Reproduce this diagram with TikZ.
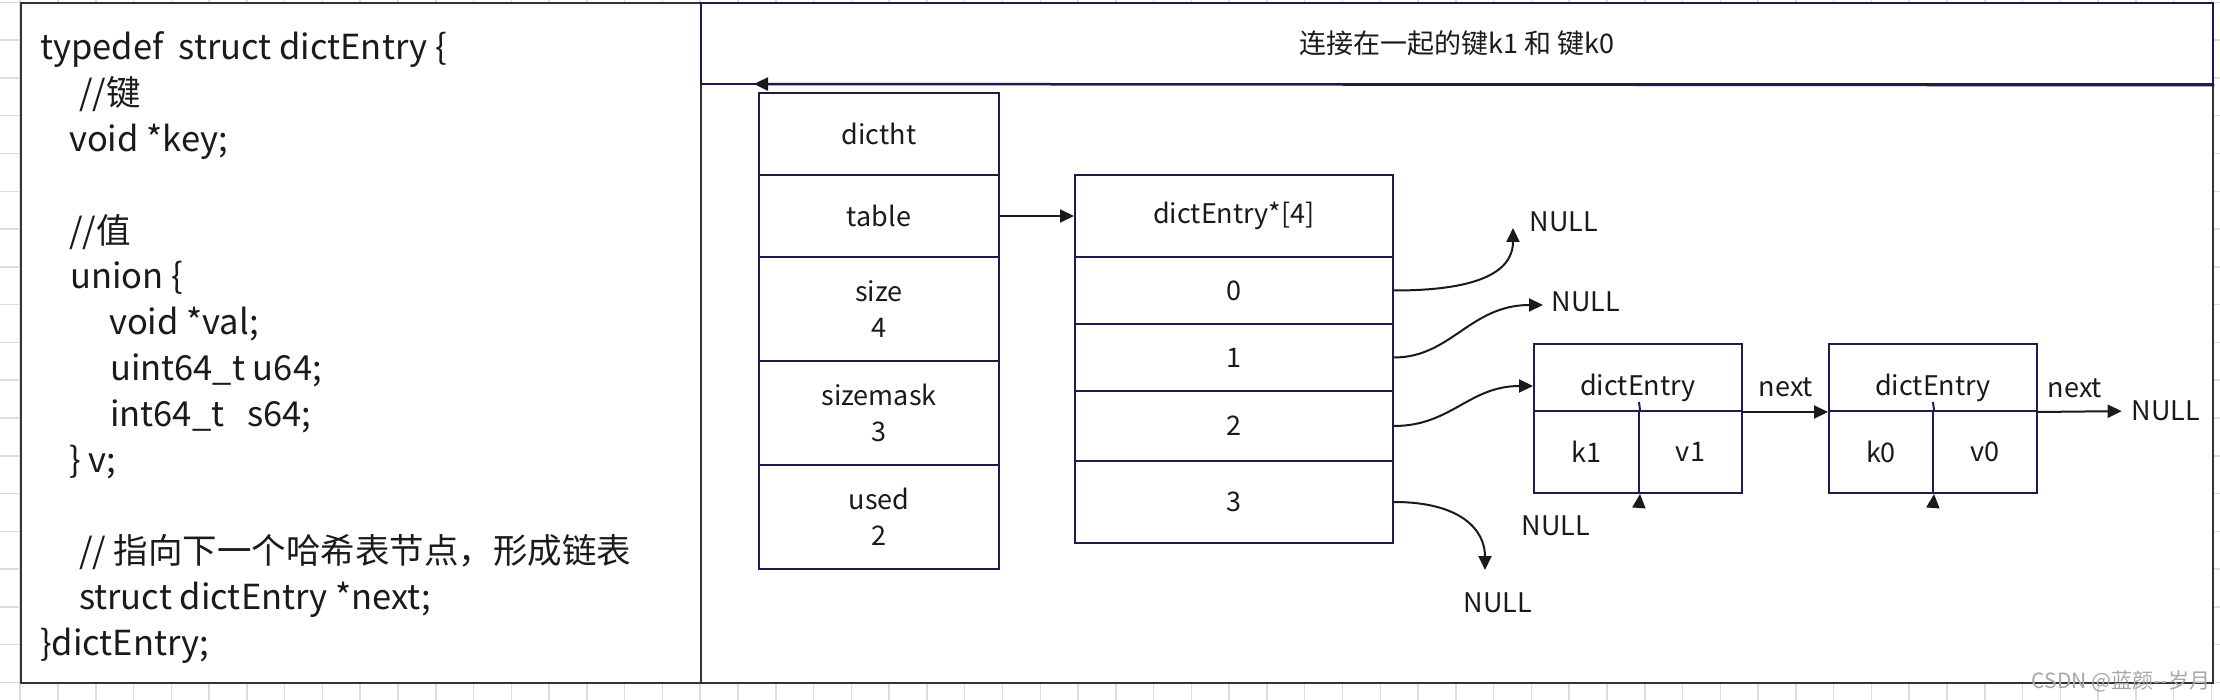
\documentclass[tikz,border=0pt]{standalone}
\usepackage{fontspec}
\setmainfont{Noto Sans CJK SC}
\usetikzlibrary{arrows.meta}
\definecolor{navy}{HTML}{1C1E48}
\definecolor{panelgray}{HTML}{333333}
\definecolor{ink}{HTML}{1A1A1A}
\definecolor{gridc}{HTML}{DCDCDC}
\definecolor{wmark}{HTML}{A8A8A8}
\begin{document}
\begin{tikzpicture}[x=1pt,y=-1pt,
  cell/.style={draw=navy, line width=2pt, inner sep=0pt, align=center,
    font=\fontsize{27}{36}\selectfont, text=ink},
  codeline/.style={anchor=base west, inner sep=0pt,
    font=\fontsize{34.5}{40}\selectfont, text=ink},
  arrow/.style={draw=ink, line width=2pt, -{Triangle[length=14pt,width=13pt]}},
  lbl/.style={inner sep=0pt, font=\fontsize{27}{32}\selectfont, text=ink},
  panel/.style={fill=white, draw=panelgray, line width=2.5pt},
]
\useasboundingbox (0,0) rectangle (2220,700);
% background grid
\foreach \k in {0,...,18} \draw[gridc, line width=1.5pt] (0,{2.4+37.78*\k}) -- (2220,{2.4+37.78*\k});
\foreach \k in {0,...,58} \draw[gridc, line width=1.5pt] ({20.2+37.78*\k},0) -- ({20.2+37.78*\k},700);
% panels
\filldraw[panel] (21,3) rectangle (701,683);
\filldraw[panel] (701,84) rectangle (2213,683);
\node[draw=navy, line width=2.5pt, fill=white, minimum width=1512pt, minimum height=81pt,
  inner sep=0pt, font=\fontsize{27}{32}\selectfont, text=ink] (header) at (1457,43.5) {连接在一起的键k1 和 键k0};
% code
\node[codeline] (c0) at (40,60) {typedef\ \ struct dictEntry \{};
\node[codeline] (c1) at (79,105.8) {//键};
\node[codeline] (c2) at (69,151.6) {void *key;};
\node[codeline] (c4) at (69,243.2) {//值};
\node[codeline] (c5) at (70,289) {union \{};
\node[codeline] (c6) at (109,334.8) {void *val;};
\node[codeline] (c7) at (110,380.6) {uint64\_t u64;};
\node[codeline] (c8) at (110,426.4) {int64\_t\ \ \ s64;};
\node[codeline] (c9) at (69,472.2) {\} v;};
\node[codeline] (c11) at (79,563.8) {// 指向下一个哈希表节点，形成链表};
\node[codeline] (c12) at (79,609.6) {struct dictEntry *next;};
\node[codeline] (c13) at (40,655.4) {\}dictEntry;};
% dictht
\node[cell, minimum width=240pt, minimum height=82pt] (dictht) at (879,134) {dictht};
\node[cell, minimum width=240pt, minimum height=82pt] (table) at (879,216) {table};
\node[cell, minimum width=240pt, minimum height=104pt] (size) at (879,309) {size\\4};
\node[cell, minimum width=240pt, minimum height=104pt] (sizemask) at (879,413) {sizemask\\3};
\node[cell, minimum width=240pt, minimum height=104pt] (used) at (879,517) {used\\2};
% table array
\node[cell, minimum width=318pt, minimum height=82pt] (tab4) at (1234,216) {dictEntry*[4]};
\node[cell, minimum width=318pt, minimum height=67pt] (b0) at (1234,290.5) {0};
\node[cell, minimum width=318pt, minimum height=67pt] (b1) at (1234,357.5) {1};
\node[cell, minimum width=318pt, minimum height=70pt] (b2) at (1234,426) {2};
\node[cell, minimum width=318pt, minimum height=82pt] (b3) at (1234,502) {3};
% entries
\node[cell, minimum width=208pt, minimum height=67pt] (e1h) at (1638,377.5) {};
\node[lbl] (e1t) at (1638,388) {dictEntry};
\node[cell, minimum width=105pt, minimum height=82pt] (k1) at (1586.5,452) {k1};
\node[cell, minimum width=103pt, minimum height=82pt] (v1) at (1690.5,452) {v1};
\node[cell, minimum width=208pt, minimum height=67pt] (e2h) at (1933,377.5) {};
\node[lbl] (e2t) at (1933,388) {dictEntry};
\node[cell, minimum width=104pt, minimum height=82pt] (k0) at (1881,452) {k0};
\node[cell, minimum width=104pt, minimum height=82pt] (v0) at (1985,452) {v0};
\draw[navy, line width=2pt] (1639,402) -- (k1.north east);
\draw[navy, line width=2pt] (1933,402) -- (k0.north east);
% labels
\node[lbl] (null0) at (1564,222) {NULL};
\node[lbl] (null1) at (1586,302) {NULL};
\node[lbl] (nullk) at (1556,526) {NULL};
\node[lbl] (null3) at (1498,603) {NULL};
\node[lbl] (next1) at (1786,387) {next};
\node[lbl] (next2) at (2075,388) {next};
\node[lbl] (null5) at (2166,411) {NULL};
\node[font=\fontsize{21}{24}\selectfont, text=wmark, inner sep=0pt] (wm) at (2121,681) {CSDN @蓝颜-{}-岁月};
% coordinates
\coordinate (htip) at (754,84);
\coordinate (t0) at (1513,228);
\coordinate (t1) at (1543,305);
\coordinate (t3) at (1485,570);
\coordinate (u1) at (1639,507);
\coordinate (u2) at (1933,507);
% connectors
\draw[draw=navy, line width=2.5pt, -{Triangle[length=14pt,width=13pt,color=ink]}] (header.south east) -- (htip);
\draw[arrow] (table.east) -- (tab4.west);
\draw[arrow] (b0.east) .. controls +(77,0) and +(0,47) .. (t0);
\draw[arrow] (b1.east) .. controls +(57,0) and +(-73,0) .. (t1);
\draw[arrow] (b2.east) .. controls +(57,0) and +(-64,0) .. ([yshift=-8.5pt]e1h.west);
\draw[arrow] (b3.east) .. controls +(67,0) and +(0,-40) .. (t3);
\draw[arrow] (u1) -- (k1.south east);
\draw[arrow] (u2) -- (k0.south east);
\draw[arrow] (e1h.south east) -- (e2h.south west);
\draw[arrow, shorten >=10pt] (e2h.south east) -- (null5.west);
\end{tikzpicture}
\end{document}
